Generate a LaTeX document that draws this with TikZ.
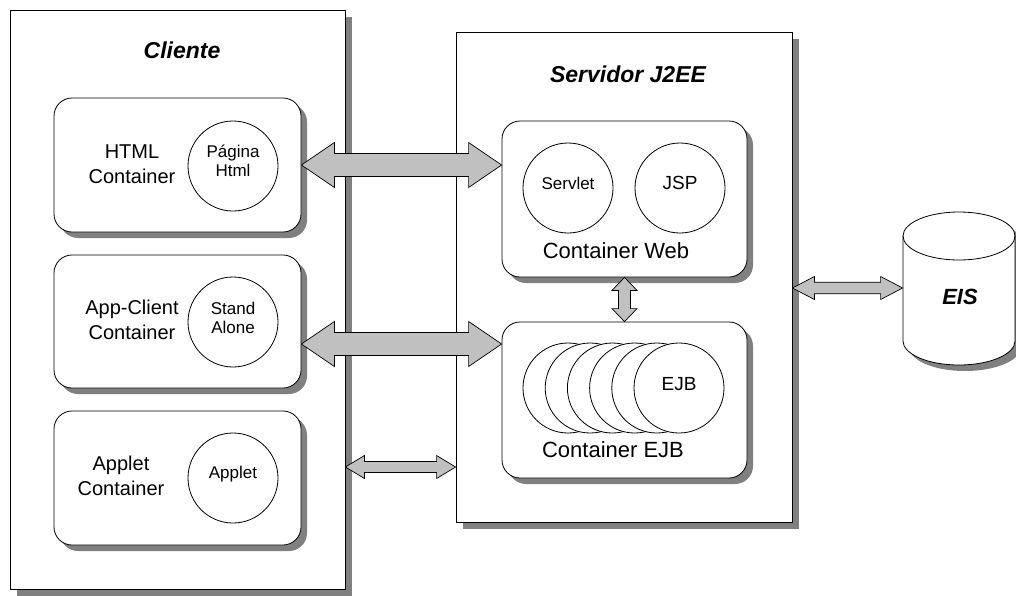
\documentclass[tikz,border=0pt]{standalone}
\usepackage{fontspec}
\setmainfont{Liberation Sans}
\usetikzlibrary{shadows,calc}
\definecolor{arrowgray}{HTML}{C0C0C0}
\definecolor{shadowgray}{HTML}{808080}
% horizontal double block arrow: #1 start point, #2 end point, #3 shaft half, #4 head half, #5 head length
\newcommand{\fatharrow}[5]{%
  \draw[fatarrow] let \p1=#1, \p2=#2 in
    (\x1,\y1) -- (\x1+#5,\y1+#4) -- (\x1+#5,\y1+#3) -- (\x2-#5,\y1+#3) -- (\x2-#5,\y1+#4)
    -- (\x2,\y1) -- (\x2-#5,\y1-#4) -- (\x2-#5,\y1-#3) -- (\x1+#5,\y1-#3) -- (\x1+#5,\y1-#4) -- cycle;}
% vertical double block arrow: #1 top point, #2 bottom point
\newcommand{\fatvarrow}[5]{%
  \draw[fatarrow] let \p1=#1, \p2=#2 in
    (\x1,\y1) -- (\x1+#4,\y1-#5) -- (\x1+#3,\y1-#5) -- (\x1+#3,\y2+#5) -- (\x1+#4,\y2+#5)
    -- (\x1,\y2) -- (\x1-#4,\y2+#5) -- (\x1-#3,\y2+#5) -- (\x1-#3,\y1-#5) -- (\x1-#4,\y1-#5) -- cycle;}
\begin{document}
\begin{tikzpicture}[x=1pt,y=-1pt,line width=0.8pt,
  bigbox/.style={draw,fill=white,rectangle,inner sep=0pt,
    drop shadow={shadow xshift=7pt,shadow yshift=-7pt,fill=shadowgray,opacity=1}},
  roundbox/.style={draw,fill=white,rectangle,rounded corners=18pt,inner sep=0pt,
    minimum width=247pt,
    drop shadow={shadow xshift=6pt,shadow yshift=-6pt,fill=shadowgray,opacity=1}},
  comp/.style={draw,fill=white,circle,minimum size=90pt,inner sep=0pt},
  fatarrow/.style={draw,fill=arrowgray,line width=0.7pt,line join=miter},
  title/.style={font=\fontsize{23}{27}\selectfont\bfseries\itshape,anchor=base},
  contlabel/.style={font=\fontsize{20}{25.5}\selectfont,align=center},
  srvlabel/.style={font=\fontsize{22}{26}\selectfont,anchor=base},
  complabel/.style={font=\fontsize{17}{19}\selectfont,align=center},
  biglabel/.style={font=\fontsize{19}{22}\selectfont,anchor=base}]
\useasboundingbox (0,0) rectangle (1016,595);

% outer boxes
\node[bigbox,minimum width=335pt,minimum height=579pt] (cliente) at (177.5,299.5) {};
\node[bigbox,minimum width=336pt,minimum height=490pt] (server) at (624,277) {};
\node[title] (tcliente) at (182,58) {Cliente};
\node[title] (tserver) at (628,82) {Servidor J2EE};

% EIS cylinder
\node[inner sep=0pt,minimum width=112pt,minimum height=153pt] (eis) at (959,288.5) {};
\fill[shadowgray,xshift=6pt,yshift=-6pt] (903,236) -- (903,341)
   arc[start angle=180,end angle=360,x radius=56pt,y radius=24pt]
   -- (1015,236) arc[start angle=0,end angle=180,x radius=56pt,y radius=24pt] -- cycle;
\draw[fill=white] (903,236) -- (903,341)
   arc[start angle=180,end angle=360,x radius=56pt,y radius=24pt]
   -- (1015,236) arc[start angle=0,end angle=180,x radius=56pt,y radius=24pt] -- cycle;
\draw (903,236) arc[start angle=180,end angle=360,x radius=56pt,y radius=24pt];
\node[title,font=\fontsize{22}{26}\selectfont\bfseries\itshape] (teis) at (960,304) {EIS};

% client containers
\node[roundbox,minimum height=134pt] (htmlbox) at (177.5,165) {};
\node[roundbox,minimum height=133pt] (appbox) at (177.5,321.5) {};
\node[roundbox,minimum height=134pt] (appletbox) at (177.5,478) {};
\node[contlabel] (thtml) at (132,164) {HTML\\Container};
\node[contlabel] (tapp) at (132,320) {App-Client\\Container};
\node[contlabel] (tapplet) at (121,476) {Applet\\Container};
\node[comp] (pagina) at (233,166) {};
\node[comp] (stand) at (233,322) {};
\node[comp] (applet) at (233,478) {};
\node[complabel] (tpagina) at (233,161) {Página\\Html};
\node[complabel] (tstand) at (233,318) {Stand\\Alone};
\node[complabel,anchor=base] (tapplet2) at (233,478) {Applet};

% server containers
\node[roundbox,minimum width=245pt,minimum height=156pt] (web) at (624.5,199) {};
\node[roundbox,minimum width=245pt,minimum height=156pt] (ejbbox) at (624.5,400) {};
\node[comp] (servlet) at (568,188) {};
\node[comp] (jsp) at (680,188) {};
\node[complabel,anchor=base] (tservlet) at (568,189) {Servlet};
\node[biglabel] (tjsp) at (680,189) {JSP};
\node[srvlabel] (tweb) at (616,258) {Container Web};
\foreach \i in {0,...,5} {
  \node[comp] (ejb\i) at (568+22.2*\i,388) {};
}
\node[biglabel] (tejb) at (679,390) {EJB};
\node[srvlabel] (tejbbox) at (613,457) {Container EJB};

% connectors
\fatharrow{(htmlbox.east)}{(web.west)}{11.5pt}{22.5pt}{33pt}
\fatharrow{([yshift=-22.5pt]appbox.east)}{(ejbbox.west)}{11.5pt}{22.5pt}{33pt}
\fatharrow{([yshift=11pt]cliente.east |- appletbox.center)}{(server.west)}{5.5pt}{11.5pt}{19pt}
\fatharrow{([yshift=-11pt]server.east)}{(eis.west)}{5.8pt}{11.5pt}{22pt}
\fatvarrow{(web.south)}{(ejbbox.north)}{6pt}{12.5pt}{13pt}
\end{tikzpicture}
\end{document}
